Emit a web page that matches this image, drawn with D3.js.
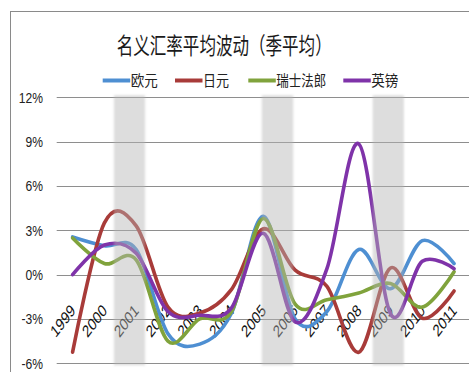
<!DOCTYPE html>
<html>
<head>
<meta charset="utf-8">
<script src="https://cdn.jsdelivr.net/npm/d3@7"></script>
<style>
  html, body { margin: 0; padding: 0; background: #fff; overflow: hidden; }
  svg { display: block; }
</style>
</head>
<body>
<svg id="chart" width="469" height="372"></svg>
<script>
// Quarterly-average nominal exchange-rate volatility, 1999-2011 (%)
const years = ['1999','2000','2001','2002','2003','2004','2005','2006','2007','2008','2009','2010','2011'];
const seriesNames = ['欧元', '日元', '瑞士法郎', '英镑'];
const eur = [2.55, 1.95, 1.7, -4.0, -4.7, -2.6, 3.95, -3.0, -2.5, 1.7, -0.95, 2.3, 0.75];
const jpy = [-5.25, 3.5, 3.3, -2.2, -2.6, -1.0, 3.1, 0.3, -0.8, -5.25, 0.45, -2.95, -1.1];
const chf = [2.48, 0.75, 1.0, -4.5, -3.0, -2.5, 3.8, -2.0, -1.7, -1.25, -0.6, -2.2, 0.2];
const gbp = [0.0, 2.0, 1.45, -2.5, -2.75, -2.25, 2.8, -3.2, 0.4, 8.85, -2.65, 0.9, 0.4];
const yTicks = [-6, -3, 0, 3, 6, 9, 12];
// Highlighted periods, as fractional years
const bandStart = [2000.3, 2004.95, 2008.44];
const bandEnd = [2001.28, 2005.94, 2009.42];

const colors = ['#4e8fd2', '#a83b39', '#80a33c', '#7f33a9'];
const values = [eur, jpy, chf, gbp];

const svg = d3.select('#chart');
const plotLeft = 56.7, plotRight = 470, plotTop = 97.3, plotBottom = 363.3;

const x = d3.scalePoint().domain(years).range([plotLeft, plotRight]).padding(0.5);
const xYear = d3.scaleLinear()
  .domain([+years[0], +years[years.length - 1]])
  .range([x(years[0]), x(years[years.length - 1])]);
const y = d3.scaleLinear().domain([-6, 12]).range([plotBottom, plotTop]);

// outer frame
svg.append('rect')
  .attr('x', 10.5).attr('y', 11.5).attr('width', 520).attr('height', 420)
  .attr('fill', 'none').attr('stroke', '#8a8a8a').attr('stroke-width', 1);

// title
svg.append('text')
  .attr('x', 116.7).attr('y', 54)
  .attr('font-family', '"Noto Sans CJK SC", sans-serif')
  .attr('font-size', 23)
  .attr('textLength', 215).attr('lengthAdjust', 'spacingAndGlyphs')
  .attr('fill', '#1a1a1a')
  .text('名义汇率平均波动（季平均）');

// legend
const legendX = [102.7, 175, 248.3, 343.3];
const legendTextW = [27, 26, 50, 27];
const legend = svg.append('g');
seriesNames.forEach((name, i) => {
  legend.append('line')
    .attr('x1', legendX[i]).attr('x2', legendX[i] + 27.5)
    .attr('y1', 80.5).attr('y2', 80.5)
    .attr('stroke', colors[i]).attr('stroke-width', 4);
  legend.append('text')
    .attr('x', legendX[i] + 28).attr('y', 86)
    .attr('font-family', '"Noto Sans CJK SC", sans-serif')
    .attr('font-size', 15)
    .attr('textLength', legendTextW[i]).attr('lengthAdjust', 'spacingAndGlyphs')
    .attr('fill', '#222')
    .text(name);
});

// gridlines
svg.append('g').selectAll('line').data(yTicks).join('line')
  .attr('x1', plotLeft).attr('x2', 469)
  .attr('y1', d => Math.round(y(d)) + 0.5).attr('y2', d => Math.round(y(d)) + 0.5)
  .attr('stroke', '#8e8e8e').attr('stroke-width', 1);

// y-axis labels
svg.append('g').selectAll('text').data(yTicks).join('text')
  .attr('transform', d => `translate(43,${y(d) + 5.5}) scale(0.78,1)`)
  .attr('text-anchor', 'end')
  .attr('font-family', '"Liberation Sans", Arial, sans-serif')
  .attr('font-size', 15.5)
  .attr('fill', '#222')
  .text(d => d + '%');

// x-axis labels (slanted)
svg.append('g').selectAll('text').data(years).join('text')
  .attr('transform', d => `translate(${x(d) + 3.5},${y(0) + 37}) scale(0.76,1) rotate(-45)`)
  .attr('text-anchor', 'end')
  .attr('font-family', '"Liberation Sans", Arial, sans-serif')
  .attr('font-size', 17)
  .attr('fill', '#111')
  .text(d => d);

// smoothed series lines
const line = d3.line()
  .x((d, i) => x(years[i]))
  .y(d => y(d))
  .curve(d3.curveCardinal.tension(0));

svg.append('g').selectAll('path').data(values).join('path')
  .attr('d', d => line(d))
  .attr('fill', 'none')
  .attr('stroke', (d, i) => colors[i])
  .attr('stroke-width', 3.6)
  .attr('stroke-linejoin', 'round')
  .attr('stroke-linecap', 'round');

// translucent highlight bands, soft-edged
const defs = svg.append('defs');
defs.append('filter').attr('id', 'soft')
  .attr('x', '-20%').attr('y', '-5%').attr('width', '140%').attr('height', '110%')
  .append('feGaussianBlur').attr('stdDeviation', 1.3);

svg.append('g').selectAll('rect').data(bandStart).join('rect')
  .attr('x', d => xYear(d))
  .attr('width', (d, i) => xYear(bandEnd[i]) - xYear(d))
  .attr('y', y(12) - 2)
  .attr('height', y(-6) - y(12) + 4)
  .attr('fill', '#b4b4b4')
  .attr('fill-opacity', 0.45)
  .attr('filter', 'url(#soft)');
</script>
</body>
</html>
